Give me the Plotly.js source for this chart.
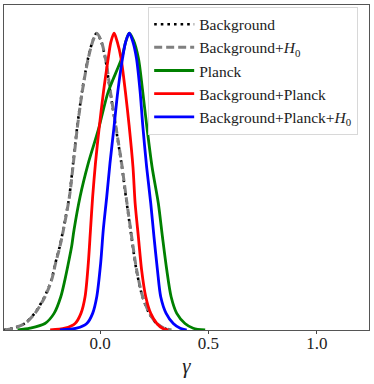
<!DOCTYPE html>
<html><head><meta charset="utf-8">
<script src="https://cdn.plot.ly/plotly-3.0.1.min.js"></script>
<style>html,body{margin:0;padding:0;background:#fff}#chart{width:374px;height:384px}</style>
</head><body><div id="chart"></div>
<script>
// Background (black dotted)
var bgX = [-0.445, -0.402, -0.348, -0.302, -0.256, -0.224, -0.206, -0.186, -0.17, -0.142, -0.124, -0.106, -0.083, -0.055, -0.031, -0.016, 0.004, 0.024, 0.047, 0.071, 0.099, 0.121, 0.142, 0.168, 0.196, 0.227, 0.261, 0.298, 0.325];
var bgY = [0, 0.006, 0.022, 0.056, 0.112, 0.169, 0.225, 0.281, 0.337, 0.449, 0.562, 0.68, 0.803, 0.916, 0.98, 1.0, 0.975, 0.916, 0.803, 0.691, 0.56, 0.44, 0.33, 0.202, 0.112, 0.056, 0.022, 0.005, 0];
// Background+H0 (gray dashed)
var bhX = [-0.44, -0.40, -0.346, -0.30, -0.254, -0.223, -0.205, -0.185, -0.169, -0.141, -0.123, -0.105, -0.082, -0.054, -0.03, -0.015, 0.005, 0.025, 0.048, 0.072, 0.1, 0.122, 0.143, 0.169, 0.197, 0.228, 0.262, 0.30, 0.33];
var bhY = [0, 0.006, 0.022, 0.056, 0.112, 0.169, 0.225, 0.281, 0.337, 0.449, 0.562, 0.68, 0.803, 0.916, 0.98, 1.0, 0.975, 0.916, 0.803, 0.691, 0.56, 0.44, 0.33, 0.202, 0.112, 0.056, 0.022, 0.005, 0];
// Planck (green)
var plX = [-0.38, -0.323, -0.254, -0.212, -0.181, -0.162, -0.146, -0.131, -0.12, -0.092, -0.054, -0.008, 0.038, 0.1, 0.12, 0.135, 0.155, 0.177, 0.197, 0.215, 0.24, 0.269, 0.288, 0.308, 0.328, 0.354, 0.392, 0.43, 0.485];
var plY = [0, 0.006, 0.022, 0.056, 0.112, 0.169, 0.225, 0.281, 0.337, 0.449, 0.562, 0.674, 0.803, 0.916, 0.975, 1.0, 0.975, 0.916, 0.803, 0.691, 0.55, 0.427, 0.314, 0.202, 0.112, 0.056, 0.022, 0.006, 0];
// Background+Planck (red)
var bpX = [-0.23, -0.162, -0.115, -0.088, -0.069, -0.054, -0.044, -0.034, -0.021, -0.004, 0.016, 0.038, 0.05, 0.065, 0.08, 0.097, 0.117, 0.134, 0.152, 0.162, 0.177, 0.192, 0.211, 0.234, 0.262, 0.29, 0.315];
var bpY = [0, 0.006, 0.022, 0.056, 0.112, 0.225, 0.337, 0.449, 0.562, 0.68, 0.803, 0.916, 0.97, 1.0, 0.97, 0.916, 0.803, 0.691, 0.55, 0.427, 0.314, 0.202, 0.112, 0.056, 0.022, 0.005, 0];
// Background+Planck+H0 (blue)
var bphX = [-0.185, -0.108, -0.061, -0.034, -0.015, 0.003, 0.015, 0.031, 0.046, 0.064, 0.082, 0.104, 0.118, 0.135, 0.152, 0.168, 0.185, 0.197, 0.215, 0.234, 0.249, 0.265, 0.28, 0.305, 0.338, 0.37, 0.4];
var bphY = [0, 0.006, 0.022, 0.056, 0.112, 0.225, 0.337, 0.449, 0.562, 0.68, 0.803, 0.916, 0.97, 1.0, 0.97, 0.916, 0.803, 0.691, 0.55, 0.427, 0.314, 0.202, 0.112, 0.056, 0.022, 0.006, 0];

var names = ['Background', 'Background+<i>H</i><sub>0</sub>', 'Planck', 'Background+Planck', 'Background+Planck+<i>H</i><sub>0</sub>'];
var tickVals = [0, 0.5, 1.0];
var tickText = ['0.0', '0.5', '1.0'];

var SERIF = 'Liberation Serif';
function tr(x, y, name, color, width, dash) {
  return {x: x, y: y, name: name, type: 'scatter', mode: 'lines',
    line: {color: color, width: width, dash: dash, shape: 'spline', smoothing: 0.8}};
}
var data = [
  tr(bgX, bgY, names[0], '#000000', 2.6, '2.6px,4px'),
  tr(bhX, bhY, names[1], '#808080', 3, '8px,4px'),
  tr(plX, plY, names[2], '#008000', 2.8, 'solid'),
  tr(bpX, bpY, names[3], '#ff0000', 2.8, 'solid'),
  tr(bphX, bphY, names[4], '#0000ff', 2.8, 'solid')
];
var layout = {
  width: 374, height: 384,
  margin: {l: 4, r: 5, t: 5, b: 54},
  paper_bgcolor: '#fff', plot_bgcolor: '#fff',
  font: {family: SERIF, color: '#222'},
  showlegend: true,
  legend: {x: 0.395, y: 0.995, xanchor: 'left', yanchor: 'top', itemwidth: 40,
    bgcolor: 'rgba(255,255,255,0.85)', bordercolor: '#d8d8d8', borderwidth: 1,
    font: {size: 15.5, family: SERIF, color: '#222'}},
  xaxis: {range: [-0.443, 1.241], tickvals: tickVals, ticktext: tickText,
    ticks: 'outside', ticklen: 3, tickcolor: '#444', tickwidth: 1, ticklabelstandoff: -5,
    showgrid: false, zeroline: false, showline: true, mirror: true, linecolor: '#555', linewidth: 1,
    tickfont: {size: 17, family: SERIF, color: '#222'},
    title: {text: '<i>γ</i>', font: {size: 21, family: SERIF, color: '#222'}, standoff: 5}},
  yaxis: {range: [0, 1.095], showticklabels: false, ticks: '',
    showgrid: false, zeroline: false, showline: true, mirror: true, linecolor: '#555', linewidth: 1}
};
Plotly.newPlot('chart', data, layout, {displayModeBar: false, staticPlot: true});
</script></body></html>
